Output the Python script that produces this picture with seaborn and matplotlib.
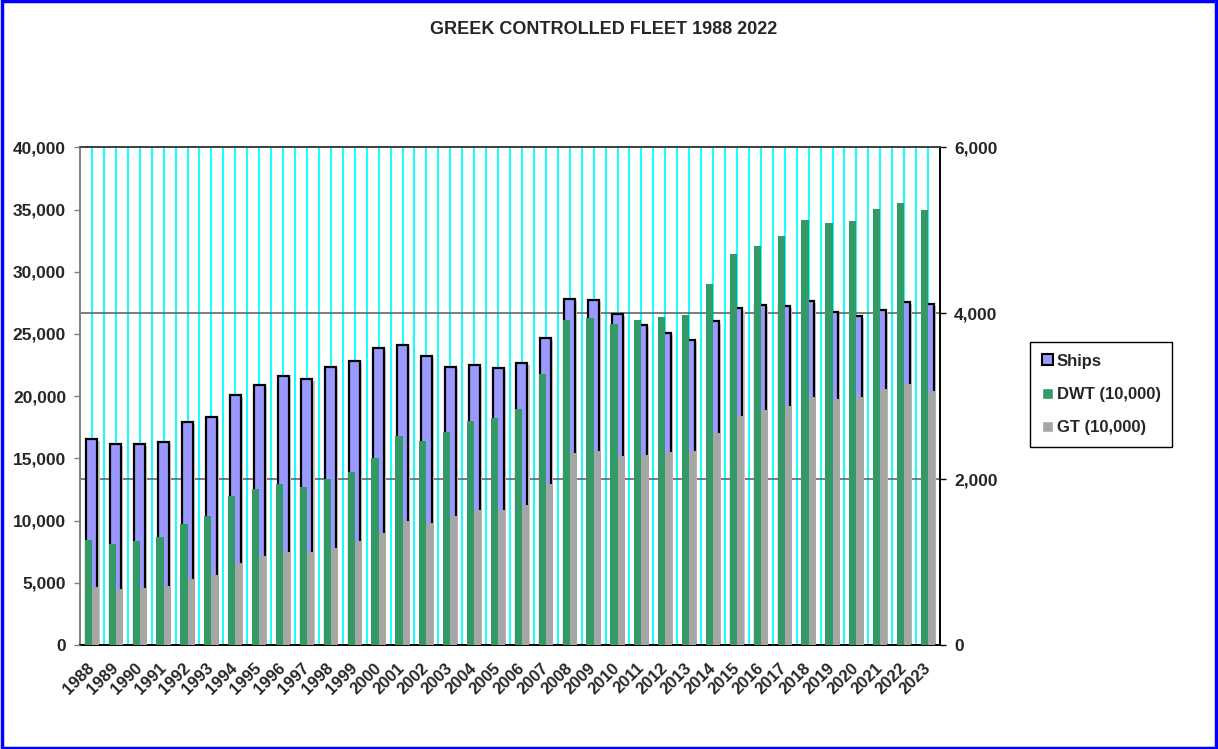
import numpy as np
import pandas as pd
import matplotlib
matplotlib.use("Agg")
import matplotlib.pyplot as plt
import matplotlib.patheffects as pe
from matplotlib.patches import Patch, Rectangle
from matplotlib.ticker import StrMethodFormatter
import seaborn as sns

# data
years = [str(y) for y in range(1988, 2024)]
ships = [2487, 2427, 2423, 2451, 2684, 2749, 3018, 3139, 3244, 3208, 3356, 3429,
         3586, 3618, 3481, 3356, 3372, 3340, 3396, 3698, 4173, 4161, 3996, 3855,
         3763, 3678, 3900, 4057, 4097, 4085, 4149, 4016, 3968, 4036, 4141, 4109]
dwt = [8450, 8130, 8370, 8670, 9760, 10330, 11990, 12560, 12930, 12720, 13310, 13870,
       15050, 16820, 16420, 17120, 17980, 18220, 18970, 21810, 26080, 26320, 25810, 26160,
       26370, 26510, 29050, 31440, 32060, 32860, 34180, 33940, 34070, 35040, 35550, 34930]
gt = [4670, 4510, 4610, 4750, 5340, 5660, 6600, 7140, 7490, 7460, 7830, 8320,
      8990, 9980, 9770, 10330, 10870, 10870, 11290, 12960, 15430, 15560, 15210, 15270,
      15530, 15560, 17060, 18380, 18860, 19240, 19910, 19800, 19960, 20550, 20980, 20420]

ship_col = "#9999FF"
dwt_col = "#339966"
gt_col = "#A6A6A6"

sns.set_theme(style="white")
plt.rcParams["font.family"] = ["Liberation Sans", "DejaVu Sans"]
plt.rcParams["font.weight"] = "bold"

df = pd.DataFrame({"Year": years * 2,
                   "Value": dwt + gt,
                   "Series": ["DWT (10,000)"] * len(years) + ["GT (10,000)"] * len(years)})

fig = plt.figure(figsize=(12.18, 7.49), dpi=100)
ax = fig.add_axes([80 / 1218, 1 - 645 / 749, 860 / 1218, (645 - 147.3) / 749])

# ships on the secondary (right) scale, drawn underneath
sns.barplot(x=years, y=ships, ax=ax, color=ship_col, saturation=1, width=0.46,
            edgecolor="black", linewidth=1.6, errorbar=None)
for p in ax.patches:
    p.set_path_effects([pe.SimplePatchShadow(offset=(1.5, -1.5), shadow_rgbFace="#C8C8C8", alpha=1),
                        pe.Normal()])

ax2 = ax.twinx()
sns.barplot(data=df, x="Year", y="Value", hue="Series", ax=ax2,
            palette={"DWT (10,000)": dwt_col, "GT (10,000)": gt_col},
            saturation=1, width=0.6, errorbar=None, legend=False, linewidth=0)

ax.set_ylim(0, 6000)
ax2.set_ylim(0, 40000)
ax.set_xlim(-0.5, len(years) - 0.5)

ax.yaxis.tick_right()
ax2.yaxis.tick_left()
ax.set_yticks([0, 2000, 4000, 6000])
ax2.set_yticks(range(0, 40001, 5000))
ax.yaxis.set_major_formatter(StrMethodFormatter("{x:,.0f}"))
ax2.yaxis.set_major_formatter(StrMethodFormatter("{x:,.0f}"))
ax.set_xlabel("")
ax.set_ylabel("")
ax2.set_ylabel("")

# gridlines
ax.set_axisbelow(True)
ax.set_xticks(range(len(years)))
ax.set_xticks(np.arange(-0.5, len(years), 1), minor=True)
ax.xaxis.grid(True, which="both", color="#00FFFF", linewidth=1.3)
ax.yaxis.grid(True, color="#666666", linewidth=1.2)

ax.tick_params(axis="x", which="major", length=0, pad=15, labelsize=12)
ax.tick_params(axis="x", which="minor", length=5, width=1, color="black", direction="out")
ax.tick_params(axis="y", length=4, width=1, color="black", labelsize=12.5, pad=6, direction="out")
ax2.tick_params(axis="y", length=4, width=1, color="#808080", labelsize=12.5, pad=6, direction="out")
ax.set_xticklabels(years)
plt.setp(ax.get_xticklabels(), rotation=45, ha="right", va="center", rotation_mode="anchor")

for s in ax2.spines.values():
    s.set_visible(False)
ax.spines["left"].set_color("#808080")
ax.spines["bottom"].set_color("black")
ax.spines["top"].set_color("#404040")
ax.spines["right"].set_color("black")
for s in ax.spines.values():
    s.set_linewidth(1.4)

fig.text(604 / 1218, 1 - 30 / 749, "GREEK CONTROLLED FLEET 1988 2022",
         ha="center", va="center", fontsize=13, fontweight="bold")

handles = [Patch(facecolor=ship_col, edgecolor="black", linewidth=1.5),
           Patch(facecolor=dwt_col), Patch(facecolor=gt_col)]
fig.legend(handles, ["Ships", "DWT (10,000)", "GT (10,000)"], loc="upper left",
           bbox_to_anchor=(1030 / 1218, 1 - 342 / 749), fancybox=False, frameon=True,
           edgecolor="black", framealpha=1, prop={"weight": "bold", "size": 12},
           handlelength=0.65, handleheight=0.65, handletextpad=0.25,
           labelspacing=1.1, borderpad=0.7, borderaxespad=0)

fig.patches.append(Rectangle((0.002, 0.002), 0.996, 0.996, transform=fig.transFigure,
                             fill=False, edgecolor="#0000FF", linewidth=2.5))

fig.savefig("out.png", dpi=100)
